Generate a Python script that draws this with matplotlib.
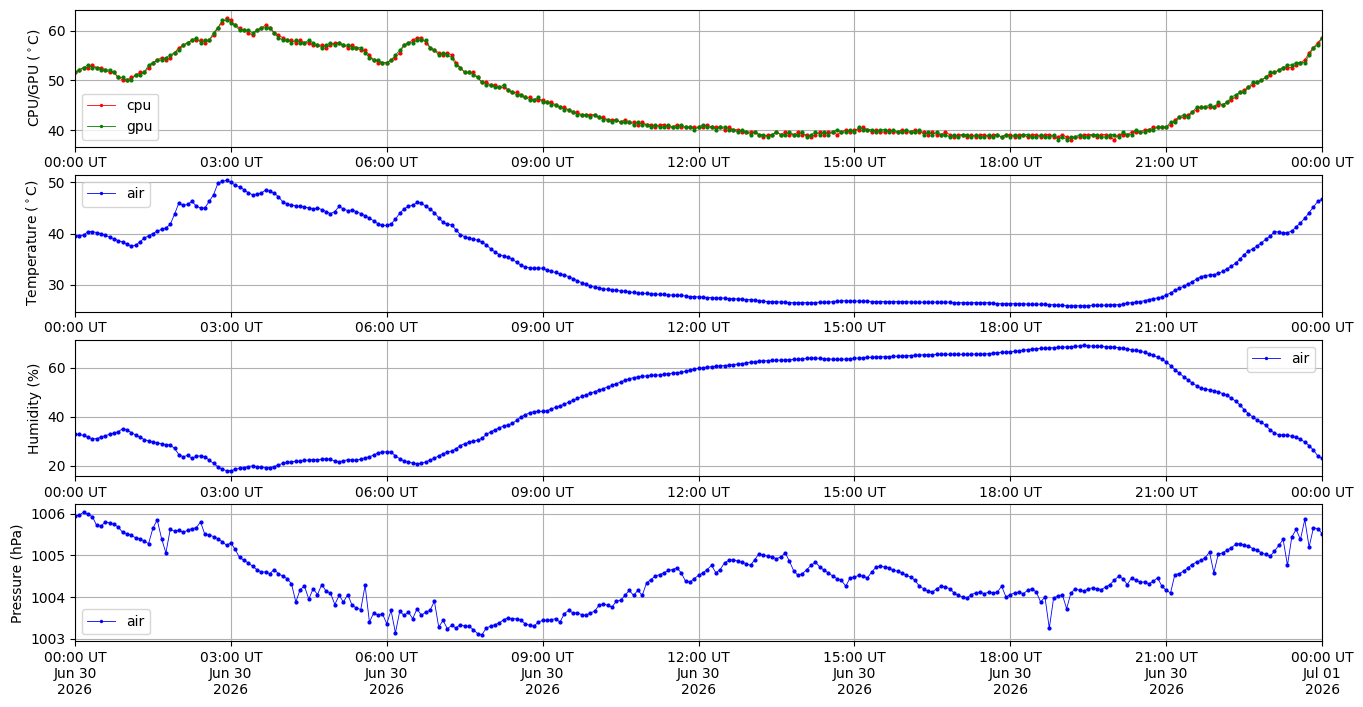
import numpy as np
import pandas as pd
import matplotlib
matplotlib.use("Agg")
import matplotlib.pyplot as plt
import matplotlib.dates as mdates

# ---- data: 5-minute readings, 2026-06-30 00:00 .. 2026-07-01 00:00 ----
start = "2026-06-30 00:00"
end = "2026-07-01 00:00"

cpu = [
 51.6,52.1,52.6,52.6,53.1,52.6,52.6,52.1,51.6,51.6,50.6,50.1,
 50.1,50.6,51.1,51.6,51.6,52.6,53.6,54.1,54.6,54.1,54.6,55.6,
 56.6,57.1,57.6,58.1,58.1,58.1,57.6,58.1,59.1,60.6,61.6,62.6,
 62.1,61.1,60.6,60.1,59.6,59.1,60.1,60.6,61.1,60.6,59.6,59.1,
 58.6,58.1,58.1,57.6,58.1,57.6,57.6,57.1,57.1,57.1,56.6,57.1,
 57.6,57.6,57.1,56.6,57.1,56.6,56.1,56.1,55.1,54.1,53.6,53.6,
 53.6,54.1,54.6,55.6,57.1,57.6,58.1,58.6,58.6,57.6,56.6,56.1,
 55.6,55.1,55.6,55.1,53.6,52.6,51.6,51.6,51.6,50.6,49.6,49.6,
 49.1,49.1,48.6,48.6,48.1,47.6,47.6,47.1,46.6,46.6,46.1,46.1,
 46.1,45.6,45.6,45.1,44.6,44.6,44.1,43.6,43.6,43.1,43.1,43.1,
 43.1,42.6,42.6,42.1,42.1,42.1,41.6,42.1,41.6,41.6,41.1,41.6,
 41.1,41.1,40.6,41.1,41.1,40.6,40.6,41.1,40.6,40.6,40.6,40.6,
 40.6,40.6,41.1,40.6,40.6,40.6,40.1,40.6,40.1,40.1,39.6,39.6,
 39.6,39.6,39.1,38.6,39.1,39.1,39.6,39.1,39.6,39.1,39.1,39.6,
 39.1,39.1,38.6,39.1,39.6,39.1,39.6,39.6,39.1,39.6,40.1,39.6,
 40.1,40.1,40.6,40.1,39.6,40.1,39.6,39.6,40.1,39.6,39.6,40.1,
 39.6,39.6,40.1,39.6,39.6,39.1,39.6,39.1,39.1,39.6,39.1,38.6,
 39.1,39.1,38.6,39.1,38.6,39.1,39.1,38.6,39.1,39.1,38.6,39.1,
 39.1,38.6,39.1,39.1,38.6,39.1,39.1,38.6,39.1,39.1,38.6,38.6,
 39.1,38.6,38.1,38.6,38.6,39.1,39.1,39.1,38.6,39.1,39.1,38.6,
 38.1,39.1,39.1,39.1,39.6,39.6,39.6,40.1,40.1,40.6,40.6,40.6,
 40.6,41.1,42.1,42.6,42.6,43.1,43.6,44.1,44.6,44.6,44.6,44.6,
 45.1,45.1,45.6,46.1,46.6,47.6,48.1,48.6,49.1,49.6,50.1,50.6,
 51.1,51.6,52.1,52.6,52.6,52.6,53.1,53.6,54.1,55.6,56.6,57.6,
 58.6]

gpu = [
 51.6,52.1,52.6,53.1,52.6,52.6,52.1,52.1,52.1,51.6,50.6,50.6,
 50.1,50.1,51.1,51.1,51.6,53.1,53.6,54.1,54.1,54.6,55.1,55.6,
 56.1,57.1,57.6,58.1,58.6,57.6,58.1,58.1,59.6,60.6,62.1,62.1,
 61.6,61.1,60.1,60.1,60.1,59.6,60.1,60.6,60.6,60.6,59.6,58.6,
 58.1,58.1,57.6,58.1,57.6,57.6,58.1,57.6,57.1,56.6,57.1,57.6,
 57.1,57.6,57.1,57.1,56.6,56.6,56.6,55.6,54.6,54.1,54.1,53.6,
 53.6,54.1,55.1,56.1,57.1,57.6,57.6,58.1,58.1,58.1,56.6,56.1,
 55.1,55.6,55.1,54.6,53.1,52.6,51.6,51.6,51.1,50.6,49.6,49.1,
 49.1,48.6,48.6,49.1,48.1,47.6,47.1,47.1,46.6,46.1,46.1,46.6,
 45.6,45.6,45.1,45.1,44.6,44.1,44.1,43.6,43.1,43.1,43.1,42.6,
 43.1,42.6,42.1,42.1,41.6,42.1,41.6,41.6,41.6,41.1,41.6,41.1,
 41.1,40.6,41.1,40.6,40.6,41.1,40.6,40.6,41.1,40.6,40.6,40.1,
 40.6,41.1,40.6,40.6,40.1,40.6,40.6,40.1,40.1,39.6,40.1,39.6,
 39.1,39.6,39.1,39.1,38.6,39.1,39.6,39.1,39.1,39.6,39.1,39.1,
 39.6,38.6,39.1,39.6,39.1,39.6,39.1,39.6,40.1,39.6,39.6,40.1,
 39.6,40.6,40.1,40.1,40.1,39.6,40.1,40.1,39.6,40.1,39.6,39.6,
 40.1,39.6,39.6,40.1,39.1,39.6,39.1,39.6,39.1,39.1,38.6,39.1,
 38.6,39.1,39.1,38.6,39.1,38.6,38.6,39.1,38.6,39.1,38.6,39.1,
 38.6,39.1,38.6,39.1,39.1,38.6,38.6,39.1,38.6,38.6,39.1,38.1,
 38.6,38.1,38.6,38.6,39.1,38.6,38.6,39.1,39.1,38.6,38.6,39.1,
 39.1,38.6,39.6,39.1,39.1,40.1,39.6,39.6,40.1,40.1,40.6,40.6,
 40.6,41.6,41.6,42.6,43.1,42.6,43.6,44.6,44.6,44.6,45.1,44.6,
 45.6,45.1,45.6,46.6,47.1,47.6,47.6,48.6,49.6,49.6,50.1,50.6,
 51.6,51.6,52.1,52.6,53.1,53.1,53.6,53.6,53.6,55.1,56.6,57.1,
 58.6]

air_temp = [
 39.6,39.6,39.7,40.4,40.4,40.2,40.0,39.7,39.3,39.0,38.6,38.4,
 37.9,37.6,37.7,38.4,39.1,39.6,40.0,40.5,40.8,41.1,41.8,43.8,
 46.0,45.5,45.7,46.3,45.4,45.0,45.0,46.3,47.6,49.8,50.2,50.4,
 50.0,49.5,49.1,48.6,48.0,47.6,47.7,47.9,48.5,48.3,47.9,47.2,
 46.2,45.8,45.6,45.4,45.3,45.2,45.0,44.8,45.0,44.7,44.3,43.9,
 44.3,45.3,44.8,44.5,44.6,44.3,43.9,43.5,43.0,42.5,41.9,41.6,
 41.6,41.9,42.8,44.0,44.8,45.4,45.5,46.1,46.0,45.3,44.8,44.1,
 43.1,42.2,41.8,41.7,40.7,39.8,39.4,39.1,38.9,38.7,38.3,37.8,
 37.0,36.4,35.9,35.6,35.4,35.0,34.4,33.8,33.5,33.3,33.2,33.3,
 33.2,32.9,32.6,32.4,32.1,31.9,31.6,31.2,30.8,30.4,30.1,29.8,
 29.5,29.4,29.2,29.1,29.0,28.9,28.8,28.7,28.6,28.5,28.4,28.3,
 28.3,28.2,28.2,28.1,28.1,28.0,28.0,27.9,27.9,27.8,27.7,27.7,
 27.6,27.6,27.5,27.5,27.4,27.4,27.4,27.3,27.3,27.2,27.2,27.1,
 27.1,27.0,26.9,26.8,26.7,26.7,26.7,26.6,26.6,26.5,26.5,26.5,
 26.5,26.5,26.5,26.5,26.6,26.6,26.6,26.7,26.8,26.8,26.9,26.8,
 26.8,26.8,26.8,26.8,26.7,26.7,26.7,26.7,26.7,26.7,26.7,26.7,
 26.7,26.6,26.6,26.6,26.6,26.6,26.6,26.6,26.6,26.6,26.6,26.5,
 26.5,26.5,26.5,26.5,26.5,26.5,26.5,26.5,26.4,26.3,26.3,26.3,
 26.3,26.3,26.3,26.3,26.2,26.2,26.2,26.2,26.2,26.1,26.1,26.0,
 26.0,25.9,25.9,25.9,25.9,25.9,25.9,26.0,26.0,26.0,26.0,26.1,
 26.1,26.1,26.2,26.4,26.5,26.6,26.7,26.9,27.1,27.3,27.4,27.6,
 28.0,28.4,28.9,29.3,29.7,30.1,30.6,31.1,31.6,31.8,31.9,32.0,
 32.2,32.6,33.1,33.6,34.2,35.0,35.9,36.6,37.0,37.6,38.2,38.9,
 39.5,40.4,40.3,40.1,40.2,40.5,41.3,42.1,43.0,44.1,45.2,46.3,
 46.7]

humidity = [
 32.8,32.7,32.3,31.6,30.9,31.0,31.6,32.2,32.8,33.3,33.8,35.1,
 34.6,33.5,32.5,31.6,30.6,30.1,29.6,29.3,28.9,28.6,28.4,27.0,
 24.5,23.6,24.2,23.0,23.8,24.0,23.6,22.2,20.9,19.6,18.5,18.0,
 17.9,18.5,18.9,19.2,19.6,19.9,19.6,19.4,19.2,19.2,19.6,20.3,
 20.9,21.3,21.6,21.8,21.8,22.1,22.3,22.4,22.4,22.6,22.8,22.5,
 21.9,21.6,22.0,22.4,22.3,22.2,22.6,23.2,23.6,24.3,25.2,25.6,
 25.6,25.5,24.0,22.8,21.9,21.6,21.0,20.7,21.0,21.5,22.3,23.0,
 24.0,24.9,25.5,25.9,26.9,28.2,29.0,29.5,30.0,30.3,31.2,32.7,
 33.8,34.6,35.4,36.2,36.6,37.2,38.5,39.9,40.7,41.6,42.0,42.1,
 42.1,42.4,43.1,43.8,44.4,45.0,45.9,46.6,47.4,48.2,48.9,49.5,
 50.2,50.8,51.4,52.1,52.7,53.4,54.1,54.8,55.4,55.9,56.2,56.4,
 56.6,56.8,56.9,57.0,57.3,57.5,57.7,57.9,58.1,58.4,58.9,59.3,
 59.7,59.9,60.2,60.3,60.5,60.7,60.8,61.0,61.2,61.4,61.6,61.9,
 62.2,62.4,62.6,62.7,62.8,62.9,63.0,63.0,63.1,63.2,63.3,63.4,
 63.5,63.7,63.9,63.9,63.7,63.6,63.5,63.4,63.3,63.3,63.5,63.6,
 63.8,63.9,64.0,64.1,64.2,64.3,64.4,64.4,64.5,64.6,64.6,64.7,
 64.8,64.9,65.0,65.1,65.2,65.3,65.3,65.4,65.4,65.4,65.4,65.4,
 65.4,65.4,65.4,65.5,65.5,65.5,65.5,65.7,65.9,66.1,66.2,66.3,
 66.4,66.6,66.8,67.1,67.3,67.5,67.7,67.8,67.9,68.0,68.1,68.2,
 68.3,68.4,68.5,68.6,68.8,69.0,68.9,68.7,68.6,68.6,68.5,68.4,
 68.3,68.1,67.9,67.6,67.3,67.0,66.6,66.2,65.6,65.0,64.2,63.4,
 62.3,60.8,59.2,57.7,56.3,55.0,53.7,52.6,51.7,51.2,50.9,50.6,
 50.1,49.4,48.6,47.6,46.3,44.8,42.8,41.2,39.8,38.6,37.6,36.4,
 34.6,33.2,32.6,32.5,32.3,32.0,31.5,30.7,29.6,28.2,26.3,24.0,
 23.1]

pressure = [
 1005.94,1005.96,1006.04,1005.98,1005.93,1005.72,1005.70,1005.80,1005.78,1005.74,1005.68,1005.55,
 1005.52,1005.48,1005.42,1005.40,1005.34,1005.28,1005.65,1005.85,1005.40,1005.06,1005.62,1005.58,
 1005.60,1005.55,1005.60,1005.64,1005.66,1005.80,1005.50,1005.49,1005.45,1005.40,1005.33,1005.24,
 1005.30,1005.14,1004.95,1004.88,1004.82,1004.74,1004.66,1004.60,1004.60,1004.56,1004.66,1004.56,
 1004.50,1004.44,1004.32,1003.88,1004.18,1004.26,1003.95,1004.20,1004.06,1004.30,1004.14,1004.10,
 1003.82,1004.04,1003.88,1004.06,1003.80,1003.74,1003.70,1004.28,1003.40,1003.62,1003.56,1003.60,
 1003.36,1003.68,1003.14,1003.66,1003.56,1003.64,1003.48,1003.72,1003.56,1003.64,1003.68,1003.90,
 1003.28,1003.44,1003.24,1003.32,1003.26,1003.34,1003.30,1003.30,1003.22,1003.12,1003.10,1003.26,
 1003.30,1003.34,1003.38,1003.46,1003.50,1003.48,1003.48,1003.44,1003.36,1003.32,1003.30,1003.40,
 1003.44,1003.44,1003.46,1003.48,1003.40,1003.60,1003.68,1003.62,1003.62,1003.58,1003.56,1003.62,
 1003.66,1003.80,1003.84,1003.80,1003.76,1003.90,1003.92,1004.04,1004.16,1004.04,1004.16,1004.04,
 1004.34,1004.42,1004.50,1004.54,1004.58,1004.64,1004.66,1004.70,1004.58,1004.38,1004.36,1004.44,
 1004.52,1004.58,1004.66,1004.76,1004.58,1004.66,1004.82,1004.88,1004.90,1004.86,1004.84,1004.80,
 1004.76,1004.90,1005.04,1005.00,1004.98,1004.96,1004.92,1004.96,1005.06,1004.86,1004.62,1004.52,
 1004.56,1004.66,1004.76,1004.84,1004.72,1004.64,1004.58,1004.50,1004.44,1004.40,1004.26,1004.46,
 1004.48,1004.52,1004.50,1004.46,1004.60,1004.72,1004.74,1004.72,1004.70,1004.64,1004.62,1004.58,
 1004.52,1004.48,1004.40,1004.26,1004.20,1004.14,1004.12,1004.20,1004.26,1004.24,1004.20,1004.10,
 1004.04,1004.00,1003.98,1004.06,1004.10,1004.12,1004.08,1004.12,1004.10,1004.12,1004.26,1004.00,
 1004.06,1004.10,1004.12,1004.08,1004.16,1004.20,1004.12,1003.88,1004.00,1003.25,1003.98,1004.02,
 1004.06,1003.72,1004.10,1004.20,1004.16,1004.14,1004.20,1004.22,1004.20,1004.18,1004.24,1004.30,
 1004.40,1004.50,1004.44,1004.30,1004.46,1004.40,1004.36,1004.36,1004.32,1004.38,1004.46,1004.26,
 1004.16,1004.10,1004.54,1004.56,1004.62,1004.70,1004.78,1004.84,1004.88,1004.94,1005.08,1004.58,
 1005.02,1005.06,1005.12,1005.18,1005.26,1005.28,1005.24,1005.22,1005.16,1005.12,1005.06,1005.02,
 1004.98,1005.10,1005.24,1005.38,1004.76,1005.44,1005.62,1005.38,1005.86,1005.20,1005.66,1005.64,
 1005.52]

times = pd.date_range(start, end, freq="5min")

# ---- figure ----
fig, axes = plt.subplots(4, 1, figsize=(13.63, 7.07), dpi=100)
fig.subplots_adjust(left=0.055, right=0.970, top=0.986, bottom=0.093, hspace=0.205)

kw = dict(marker=".", linestyle="-", linewidth=0.6, markersize=4)

ax = axes[0]
ax.plot(times, cpu, color="r", label="cpu", **kw)
ax.plot(times, gpu, color="g", label="gpu", **kw)
ax.set_ylabel(r"CPU/GPU ($^\circ$C)")
ax.set_ylim(36.66, 64.2)
ax.legend(loc="lower left", markerscale=0.7)

ax = axes[1]
ax.plot(times, air_temp, color="b", label="air", **kw)
ax.set_ylabel(r"Temperature ($^\circ$C)")
ax.set_ylim(24.76, 51.5)
ax.legend(loc="upper left", markerscale=0.7)

ax = axes[2]
ax.plot(times, humidity, color="b", label="air", **kw)
ax.set_ylabel("Humidity (%)")
ax.set_ylim(15.6, 71.4)
ax.legend(loc="upper right", markerscale=0.7)

ax = axes[3]
ax.plot(times, pressure, color="b", label="air", **kw)
ax.set_ylabel("Pressure (hPa)")
ax.set_ylim(1002.94, 1006.22)
ax.legend(loc="lower left", markerscale=0.7)

x0 = pd.Timestamp(start)
x1 = pd.Timestamp(end)
for i, ax in enumerate(axes):
    ax.set_xlim(x0, x1)
    ax.xaxis.set_major_locator(mdates.HourLocator(byhour=range(0, 24, 3)))
    if i < 3:
        ax.xaxis.set_major_formatter(mdates.DateFormatter("%H:%M UT"))
    else:
        ax.xaxis.set_major_formatter(mdates.DateFormatter("%H:%M UT\n%b %d\n%Y"))
    ax.grid(True)

fig.savefig("out.png", dpi=100)
